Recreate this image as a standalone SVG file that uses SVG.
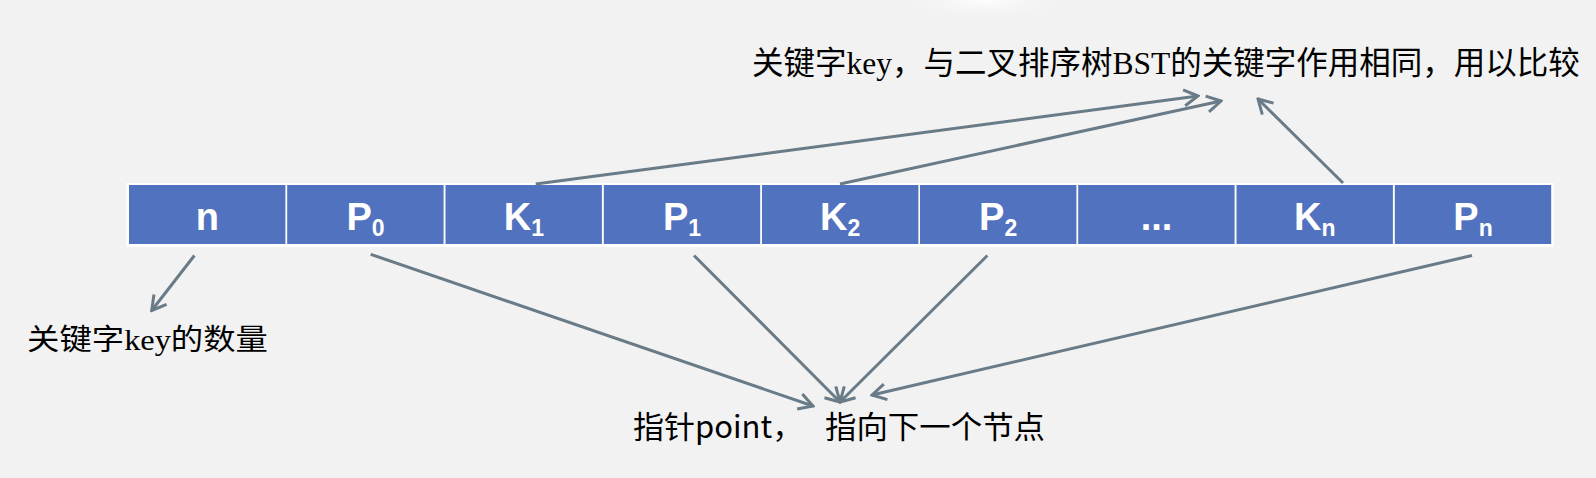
<svg xmlns="http://www.w3.org/2000/svg" width="1596" height="478" viewBox="0 0 1596 478">
<defs>
<style>
.cell{fill:#5172BE;}
.lbl{font-family:"Liberation Sans",Arial,sans-serif;font-weight:bold;font-size:38px;fill:#FFFFFF;text-anchor:middle;}
.sub{font-size:23px;}
.conn{fill:none;stroke:#6A7B88;stroke-width:3;marker-end:url(#arr);}
.serif{font-family:"Liberation Serif","Noto Sans CJK SC",serif;fill:#000;}
.sans{font-family:"Noto Sans CJK SC","Liberation Sans",sans-serif;fill:#000;}
</style>
<marker id="arr" markerUnits="userSpaceOnUse" viewBox="-18 -11 20 22" refX="0" refY="0" markerWidth="20" markerHeight="22" orient="auto">
<path d="M-14,-8 L0,0 L-14,8" fill="none" stroke="#6A7B88" stroke-width="3" stroke-linejoin="miter"/>
</marker>
<radialGradient id="glow" cx="0.5" cy="0.5" r="0.5">
<stop offset="0" stop-color="#FFFFFF" stop-opacity="0.9"/>
<stop offset="1" stop-color="#F2F2F2" stop-opacity="0"/>
</radialGradient>
</defs>
<rect x="0" y="0" width="1596" height="478" fill="#F2F2F2"/>
<ellipse cx="985" cy="0" rx="90" ry="22" fill="url(#glow)"/>

<g id="table">
<rect x="126.5" y="183" width="1427" height="64" fill="#FFFFFF"/>
</g>
<g id="cell-n"><rect class="cell" x="129" y="185" width="156.4" height="59"/><text class="lbl" x="207.4" y="230">n</text></g>
<g id="cell-p0"><rect class="cell" x="287.2" y="185" width="156.4" height="59"/><text class="lbl" x="365.5" y="230">P<tspan class="sub" dy="6">0</tspan></text></g>
<g id="cell-k1"><rect class="cell" x="445.5" y="185" width="156.4" height="59"/><text class="lbl" x="523.8" y="230">K<tspan class="sub" dy="6">1</tspan></text></g>
<g id="cell-p1"><rect class="cell" x="603.8" y="185" width="156.4" height="59"/><text class="lbl" x="682" y="230">P<tspan class="sub" dy="6">1</tspan></text></g>
<g id="cell-k2"><rect class="cell" x="762" y="185" width="156.4" height="59"/><text class="lbl" x="840.2" y="230">K<tspan class="sub" dy="6">2</tspan></text></g>
<g id="cell-p2"><rect class="cell" x="920" y="185" width="156.4" height="59"/><text class="lbl" x="998.2" y="230">P<tspan class="sub" dy="6">2</tspan></text></g>
<g id="cell-dots"><rect class="cell" x="1078.2" y="185" width="156.4" height="59"/><text class="lbl" x="1156.5" y="230">...</text></g>
<g id="cell-kn"><rect class="cell" x="1236.5" y="185" width="156.4" height="59"/><text class="lbl" x="1314.8" y="230">K<tspan class="sub" dy="6">n</tspan></text></g>
<g id="cell-pn"><rect class="cell" x="1394.8" y="185" width="156.4" height="59"/><text class="lbl" x="1473" y="230">P<tspan class="sub" dy="6">n</tspan></text></g>

<g id="label-key"><text class="serif" x="752" y="74" font-size="31.5">关键字key，与二叉排序树BST的关键字作用相同，用以比较</text></g>
<g id="label-count"><text class="serif" x="27" y="350" font-size="29" textLength="241" lengthAdjust="spacingAndGlyphs">关键字key的数量</text></g>
<g id="label-pointer"><text class="sans" x="633" y="438" font-size="31">指针point，</text><text class="sans" x="825" y="438" font-size="31" textLength="220" lengthAdjust="spacingAndGlyphs">指向下一个节点</text></g>

<g id="connectors">
<line class="conn" x1="535.7" y1="184" x2="1198" y2="96"/>
<line class="conn" x1="840" y1="184" x2="1221" y2="101"/>
<line class="conn" x1="1343" y1="183" x2="1258" y2="99"/>
<line class="conn" x1="194.4" y1="255.5" x2="151.7" y2="310.5"/>
<line class="conn" x1="370.7" y1="254.3" x2="813" y2="406"/>
<line class="conn" x1="694" y1="255.5" x2="840" y2="402"/>
<line class="conn" x1="987.4" y1="255.5" x2="840" y2="402"/>
<line class="conn" x1="1472" y1="255.5" x2="872" y2="395"/>
</g>
</svg>
